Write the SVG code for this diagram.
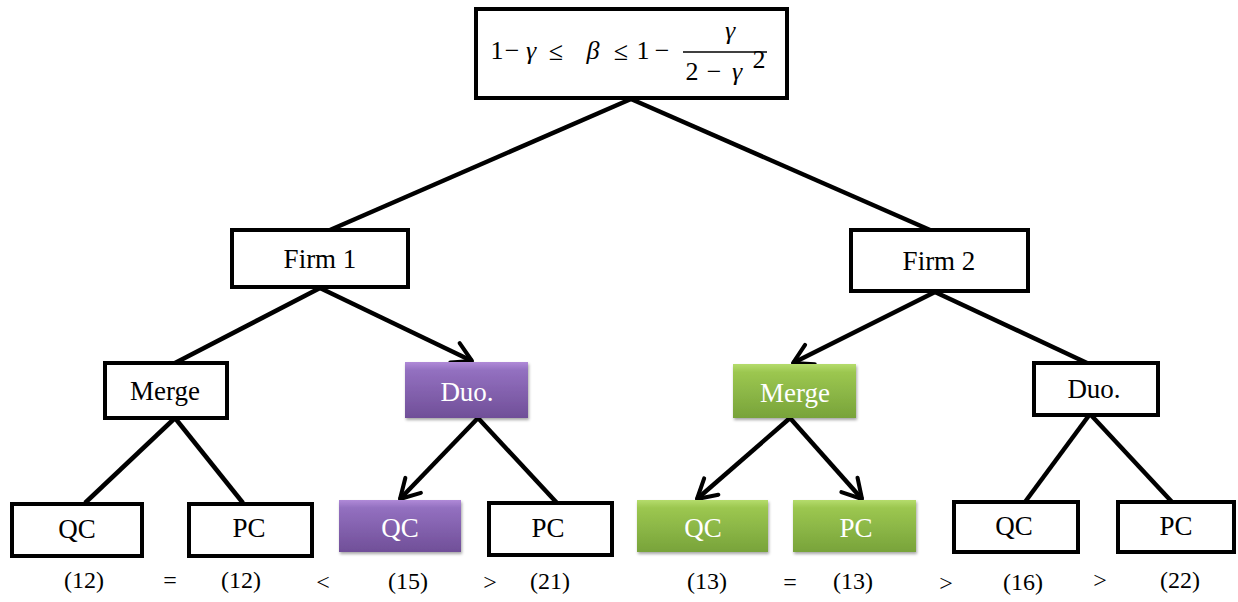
<svg xmlns="http://www.w3.org/2000/svg" width="1238" height="602" viewBox="0 0 1238 602">
<defs>
<style>
.box{fill:#fff;stroke:#000;stroke-width:4}
text{font-family:"Liberation Serif","DejaVu Serif","Times New Roman",serif}
.lbl{font-size:27px;text-anchor:middle;fill:#000}
.wl{fill:#fff}
.eq{font-size:26px;fill:#000;text-anchor:middle}
.it{font-style:italic}
.num{font-size:24px;text-anchor:middle;fill:#000}
.edge{stroke:#000;stroke-width:4.5;fill:none}
.arr{marker-end:url(#chev)}
</style>
<linearGradient id="gp" x1="0" y1="0" x2="0" y2="1">
<stop offset="0" stop-color="#b08ad8"/><stop offset="0.15" stop-color="#9370c0"/><stop offset="1" stop-color="#704f98"/>
</linearGradient>
<linearGradient id="gg" x1="0" y1="0" x2="0" y2="1">
<stop offset="0" stop-color="#b5dc6c"/><stop offset="0.15" stop-color="#9cc750"/><stop offset="1" stop-color="#78a33a"/>
</linearGradient>
<filter id="sh" x="-10%" y="-10%" width="130%" height="140%">
<feDropShadow dx="1" dy="2" stdDeviation="1.5" flood-color="#000" flood-opacity="0.35"/>
</filter>
<marker id="chev" viewBox="0 0 20 20" refX="17" refY="10" markerWidth="6" markerHeight="6" markerUnits="strokeWidth" orient="auto">
<path d="M3,2 L17,10 L3,18" fill="none" stroke="#000" stroke-width="3" stroke-linecap="round" stroke-linejoin="round"/>
</marker>
</defs>

<g id="connectors">
<line class="edge" x1="631" y1="99" x2="330" y2="230"/>
<line class="edge" x1="631" y1="99" x2="930" y2="230"/>
<line class="edge" x1="320" y1="288" x2="175" y2="363"/>
<line class="edge arr" x1="320" y1="288" x2="472" y2="361"/>
<line class="edge arr" x1="935" y1="292" x2="793" y2="363"/>
<line class="edge" x1="935" y1="292" x2="1087" y2="363"/>
<line class="edge" x1="175" y1="418" x2="85" y2="503"/>
<line class="edge" x1="175" y1="418" x2="243" y2="503"/>
<line class="edge arr" x1="478" y1="418" x2="400" y2="499"/>
<line class="edge" x1="478" y1="418" x2="557" y2="503"/>
<line class="edge arr" x1="790" y1="418" x2="697" y2="499"/>
<line class="edge arr" x1="790" y1="418" x2="862" y2="499"/>
<line class="edge" x1="1090" y1="414" x2="1025" y2="502"/>
<line class="edge" x1="1090" y1="414" x2="1172" y2="502"/>
</g>

<g id="root">
<rect class="box" x="476" y="9" width="311" height="89"/>
<text class="eq" x="497" y="59">1</text>
<text class="eq" x="512" y="59">−</text>
<text class="eq it" x="531" y="59">γ</text>
<text class="eq" x="556" y="60" font-size="30">≤</text>
<text class="eq it" x="593" y="59">β</text>
<text class="eq" x="621" y="60" font-size="30">≤</text>
<text class="eq" x="643" y="59">1</text>
<text class="eq" x="662" y="59">−</text>
<line x1="683" y1="52" x2="767" y2="52" stroke="#000" stroke-width="1.5"/>
<text class="eq it" x="730" y="39">γ</text>
<text class="eq" x="692" y="80">2</text>
<text class="eq" x="714" y="80">−</text>
<text class="eq it" x="737" y="80">γ</text>
<text class="eq" x="759" y="68" font-size="16">2</text>
</g>

<g id="firm1"><rect class="box" x="232" y="230" width="176" height="57"/><text class="lbl" x="320" y="268">Firm 1</text></g>
<g id="firm2"><rect class="box" x="851" y="230" width="177" height="61"/><text class="lbl" x="939" y="270">Firm 2</text></g>

<g id="merge1"><rect class="box" x="105" y="363" width="122" height="55"/><text class="lbl" x="165" y="400">Merge</text></g>
<g id="duo1"><rect x="405" y="362" width="123" height="56" fill="url(#gp)" filter="url(#sh)"/><text class="lbl wl" x="467" y="401">Duo.</text></g>
<g id="merge2"><rect x="733" y="364" width="123" height="54" fill="url(#gg)" filter="url(#sh)"/><text class="lbl wl" x="795" y="402">Merge</text></g>
<g id="duo2"><rect class="box" x="1034" y="363" width="124" height="52"/><text class="lbl" x="1094" y="398">Duo.</text></g>

<g id="qc1"><rect class="box" x="12" y="504" width="130" height="52"/><text class="lbl" x="77" y="538">QC</text></g>
<g id="pc1"><rect class="box" x="189" y="504" width="123" height="52"/><text class="lbl" x="249" y="537">PC</text></g>
<g id="qc2"><rect x="339" y="500" width="122" height="52" fill="url(#gp)" filter="url(#sh)"/><text class="lbl wl" x="400" y="537">QC</text></g>
<g id="pc2"><rect class="box" x="489" y="503" width="123" height="52"/><text class="lbl" x="548" y="537">PC</text></g>
<g id="qc3"><rect x="637" y="500" width="131" height="52" fill="url(#gg)" filter="url(#sh)"/><text class="lbl wl" x="703" y="537">QC</text></g>
<g id="pc3"><rect x="793" y="500" width="123" height="52" fill="url(#gg)" filter="url(#sh)"/><text class="lbl wl" x="856" y="537">PC</text></g>
<g id="qc4"><rect class="box" x="954" y="502" width="124" height="50"/><text class="lbl" x="1014" y="535">QC</text></g>
<g id="pc4"><rect class="box" x="1118" y="502" width="116" height="50"/><text class="lbl" x="1176" y="535">PC</text></g>

<g id="values">
<text class="num" x="84" y="588" font-size="22">(12)</text>
<text class="num" x="170" y="588">=</text>
<text class="num" x="241" y="588" font-size="22">(12)</text>
<text class="num" x="323" y="590" font-size="18">&lt;</text>
<text class="num" x="408" y="589" font-size="26">(15)</text>
<text class="num" x="490" y="590" font-size="18">&gt;</text>
<text class="num" x="550" y="589" font-size="26">(21)</text>
<text class="num" x="707" y="589" font-size="26">(13)</text>
<text class="num" x="790" y="590" font-size="20">=</text>
<text class="num" x="853" y="589" font-size="26">(13)</text>
<text class="num" x="946" y="591" font-size="18">&gt;</text>
<text class="num" x="1023" y="590" font-size="22">(16)</text>
<text class="num" x="1100" y="588" font-size="22">&gt;</text>
<text class="num" x="1180" y="588" font-size="22">(22)</text>
</g>
</svg>
